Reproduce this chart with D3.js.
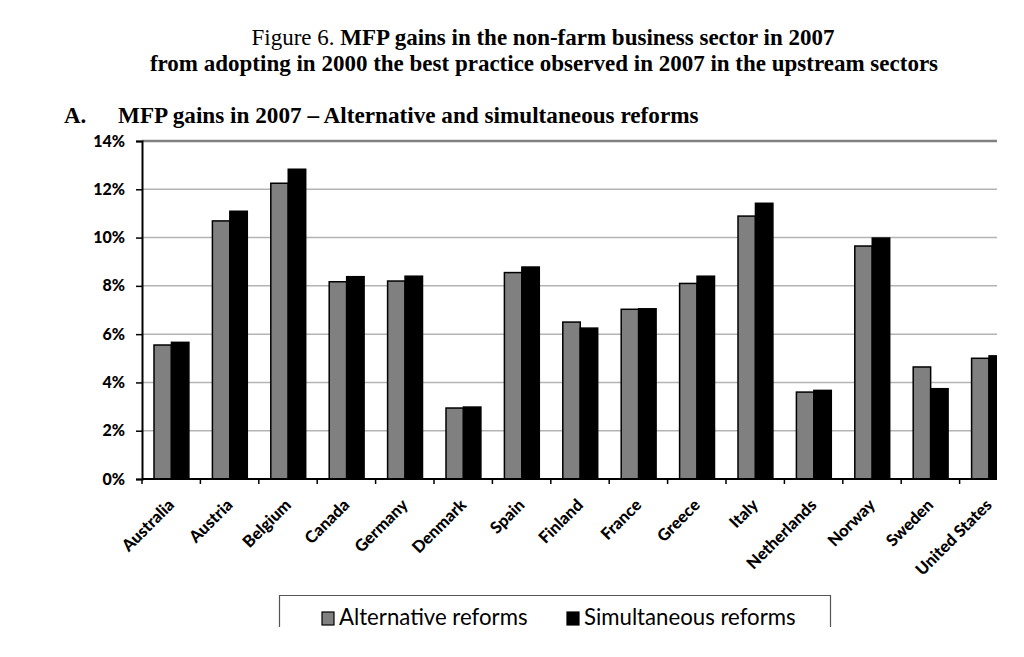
<!DOCTYPE html>
<html><head><meta charset="utf-8">
<script src="https://cdn.jsdelivr.net/npm/d3@7"></script>
<style>body{margin:0;background:#fff}svg{display:block}</style>
</head><body><svg id="c" width="1024" height="657"></svg>
<script>
const categories = ["Australia","Austria","Belgium","Canada","Germany","Denmark","Spain","Finland","France","Greece","Italy","Netherlands","Norway","Sweden","United States"];
const alternative = [5.55,10.69,12.25,8.17,8.2,2.94,8.55,6.5,7.03,8.1,10.89,3.6,9.65,4.64,5.0];
const simultaneous = [5.66,11.09,12.83,8.38,8.4,2.98,8.78,6.25,7.05,8.4,11.42,3.67,9.98,3.74,5.1];
const seriesNames = ["Alternative reforms","Simultaneous reforms"];
const seriesColors = ["#808080","#000000"];
const yTicks = [0,2,4,6,8,10,12,14];

const svg = d3.select("#c");
const L = 142, R = 1018, clipR = 997, T = 141, B = 479;
const x = d3.scaleBand().domain(categories).range([L, R]).paddingInner(0).paddingOuter(0);
const xs = d3.scaleBand().domain(seriesNames).range([12, x.bandwidth() - 11.5]);
const y = d3.scaleLinear().domain([0,14]).range([B, T]);
const serif = "Liberation Serif, Times New Roman, serif";

// titles
const t1 = svg.append("text").attr("x",543).attr("y",45).attr("text-anchor","middle")
  .style("font-family",serif).style("font-size","23px");
t1.append("tspan").text("Figure 6. ");
t1.append("tspan").attr("font-weight","bold").text("MFP gains in the non-farm business sector in 2007");
svg.append("text").attr("x",544).attr("y",71).attr("text-anchor","middle")
  .style("font-family",serif).style("font-size","23px").attr("font-weight","bold")
  .text("from adopting in 2000 the best practice observed in 2007 in the upstream sectors");
svg.append("text").attr("x",64).attr("y",123)
  .style("font-family",serif).style("font-size","23px").attr("font-weight","bold")
  .text("A.");
svg.append("text").attr("x",118).attr("y",123)
  .style("font-family",serif).style("font-size","23.2px").attr("font-weight","bold")
  .text("MFP gains in 2007 – Alternative and simultaneous reforms");

svg.append("clipPath").attr("id","pc").append("rect").attr("x",L-2).attr("y",T-5).attr("width",clipR-L+2).attr("height",B-T+10);
const plot = svg.append("g").attr("clip-path","url(#pc)");

// gridlines
plot.selectAll("line.g").data(yTicks.filter(d=>d>0)).join("line")
  .attr("x1",L).attr("x2",clipR).attr("y1",d=>y(d)).attr("y2",d=>y(d))
  .attr("stroke",d=>d===14?"#808080":"#b4b4b4").attr("stroke-width",d=>d===14?2.5:1.5);

// bars
const groups = plot.selectAll("g.cat").data(categories).join("g")
  .attr("transform",d=>`translate(${x(d)},0)`);
groups.selectAll("rect").data((d,i)=>[{s:0,v:alternative[i]},{s:1,v:simultaneous[i]}]).join("rect")
  .attr("x",d=>xs(seriesNames[d.s])).attr("width",xs.bandwidth())
  .attr("y",d=>y(d.v)).attr("height",d=>B-y(d.v))
  .attr("fill",d=>seriesColors[d.s]).attr("stroke","#000").attr("stroke-width",1.5);

// y axis
const yAxis = svg.append("g").attr("transform",`translate(${L},0)`)
  .call(d3.axisLeft(y).tickValues(yTicks).tickFormat(d=>d+"%").tickSize(6).tickPadding(11));
yAxis.select(".domain").attr("stroke","#000").attr("stroke-width",2);
yAxis.selectAll(".tick line").attr("stroke","#000").attr("stroke-width",1.5);
yAxis.selectAll(".tick text").style("font-family","Lato, sans-serif").style("font-size","16px").attr("font-weight","900").attr("fill","#000");

// x axis
svg.append("line").attr("x1",L).attr("x2",clipR).attr("y1",B).attr("y2",B).attr("stroke","#000").attr("stroke-width",2);
svg.selectAll("line.xt").data(categories).join("line").attr("class","xt")
  .attr("x1",d=>x(d)).attr("x2",d=>x(d)).attr("y1",B).attr("y2",B+5).attr("stroke","#000").attr("stroke-width",1.5);
svg.selectAll("text.xl").data(categories).join("text").attr("class","xl")
  .attr("transform",d=>`translate(${x(d)+x.bandwidth()/2},${B+23}) rotate(-45)`)
  .attr("text-anchor","end").attr("dy","0.35em")
  .style("font-family","Lato, sans-serif").style("font-size","16.5px").attr("font-weight","900")
  .text(d=>d);

// legend
svg.append("path").attr("d","M279.5,628 V595.5 H830.5 V628").attr("fill","none").attr("stroke","#555").attr("stroke-width",1.2);
const legX = [322, 567];
seriesNames.forEach((n,i)=>{
  svg.append("rect").attr("x",legX[i]).attr("y",612).attr("width",12).attr("height",13)
    .attr("fill",seriesColors[i]).attr("stroke","#000").attr("stroke-width",1.2);
  svg.append("text").attr("x",legX[i]+17).attr("y",625)
    .style("font-family","Lato, sans-serif").style("font-size","22.2px").text(n);
});
svg.append("rect").attr("x",0).attr("y",627).attr("width",1024).attr("height",30).attr("fill","#fff");
</script></body></html>
